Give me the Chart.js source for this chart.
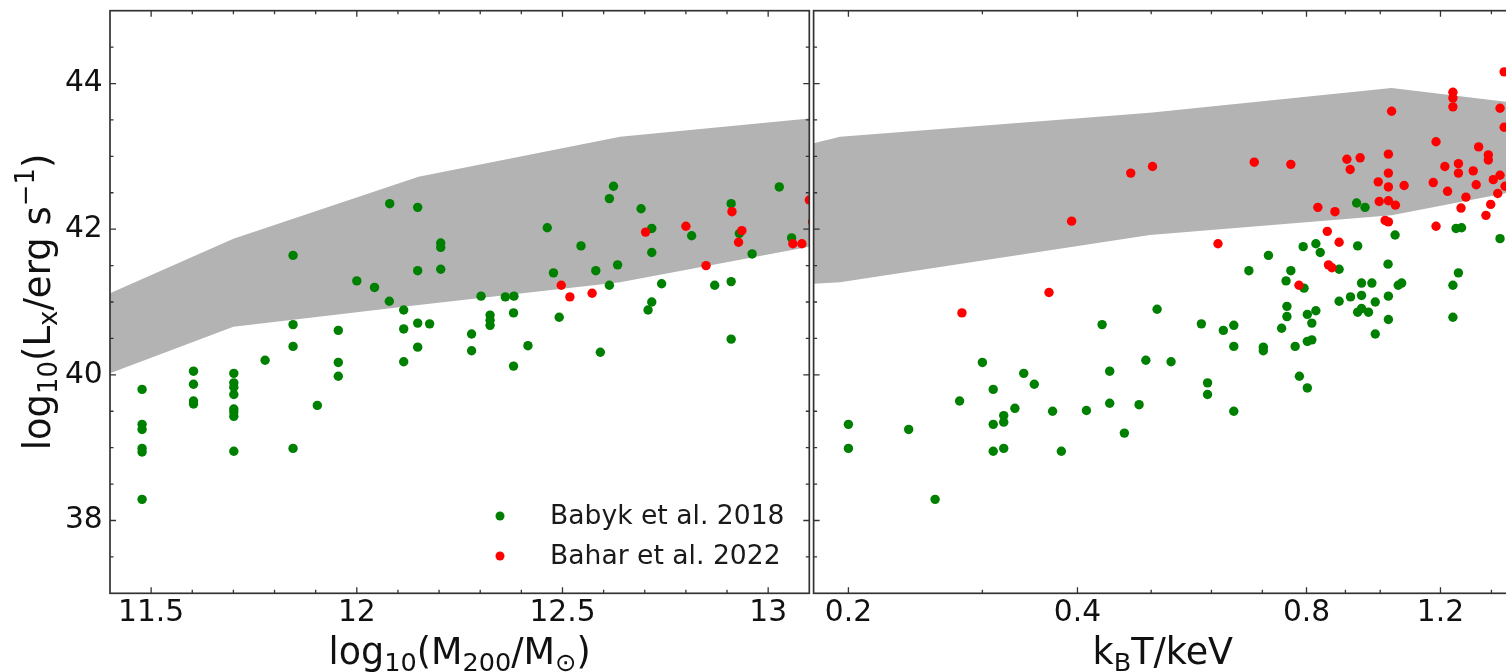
<!DOCTYPE html>
<html>
<head>
<meta charset="utf-8">
<script src="https://cdn.jsdelivr.net/npm/chart.js@4.4.1/dist/chart.umd.min.js"></script>
<style>
html, body { margin: 0; padding: 0; background: #fff; }
#wrap { position: relative; width: 1506px; height: 672px; overflow: hidden; background: #fff; }
#left { position: absolute; left: 0; top: 0; }
#right { position: absolute; left: 760px; top: 0; }
</style>
</head>
<body>
<div id="wrap">
  <canvas id="left" width="814" height="672"></canvas>
  <canvas id="right" width="780" height="672"></canvas>
</div>
<script>
//LEFT PANEL: MASS VS LUMINOSITY
const massGreen = [12.08, 11.845, 12.0, 12.043, 12.079, 11.845, 11.955, 11.845, 11.777, 11.955,
  11.955, 11.478, 11.603, 11.603, 11.603, 11.603, 11.701, 11.701, 11.701, 11.701,
  11.701, 11.701, 11.701, 11.701, 11.478, 11.478, 11.478, 11.478, 11.478, 11.904,
  11.845, 12.148, 12.204, 12.204, 12.148, 12.204, 12.114, 12.114, 12.148, 12.177,
  12.302, 12.324, 12.324, 12.324, 12.279, 12.361, 12.382, 12.381, 12.463, 12.478,
  12.492, 12.545, 12.581, 12.614, 12.624, 12.634, 12.614, 12.691, 12.717, 12.717,
  12.741, 12.717, 12.708, 12.814, 12.870, 12.910, 12.910, 12.930, 12.961, 13.027,
  13.057, 12.910, 12.114, 12.148, 12.279, 12.381, 12.416, 12.592];
const lumMassGreen = [42.35, 41.64, 41.29, 41.20, 41.01, 40.69, 40.61, 40.39, 40.20, 40.17,
  39.98, 39.80, 40.05, 39.87, 39.64, 39.60, 40.02, 39.89, 39.83, 39.73,
  39.53, 39.49, 39.43, 38.95, 39.32, 39.25, 38.99, 38.94, 38.29, 39.58,
  38.99, 42.30, 41.81, 41.75, 41.43, 41.45, 40.89, 40.63, 40.71, 40.70,
  41.08, 40.82, 40.75, 40.68, 40.56, 41.07, 41.08, 40.85, 42.02, 41.40,
  40.79, 41.77, 41.43, 42.42, 42.59, 41.51, 41.23, 42.28, 42.01, 41.68,
  41.25, 41.00, 40.89, 41.91, 41.23, 42.35, 41.28, 41.94, 41.66, 42.58,
  41.88, 40.49, 40.18, 40.38, 40.33, 40.12, 40.40, 40.31];
const massRed = [12.702, 12.800, 12.849, 12.912, 12.936, 12.928, 13.060, 13.082, 13.10, 13.108, 12.497, 12.518, 12.572];
const lumMassRed = [41.96, 42.04, 41.50, 42.24, 41.98, 41.82, 41.80, 41.80, 42.40, 42.10, 41.23, 41.07, 41.12];

//GREY BAND (MASS)
const bandMass = [11.4, 11.7, 12.15, 12.64, 13.1];
const bandMassUp = [41.12, 41.87, 42.72, 43.27, 43.52];
const bandMassLo = [40.02, 40.66, 40.96, 41.27, 41.76];

//RIGHT PANEL: TEMPERATURE VS LUMINOSITY
const tempGreen = [0.200, 0.200, 0.240, 0.260, 0.280, 0.300, 0.310, 0.310, 0.310, 0.320,
  0.320, 0.320, 0.331, 0.340, 0.351, 0.371, 0.381, 0.411, 0.441, 0.441,
  0.461, 0.482, 0.492, 0.431, 0.509, 0.531, 0.582, 0.593, 0.593, 0.622,
  0.642, 0.642, 0.642, 0.672, 0.702, 0.702, 0.713, 0.742, 0.752, 0.754,
  0.754, 0.763, 0.773, 0.783, 0.792, 0.794, 0.802, 0.802, 0.802, 0.813,
  0.813, 0.823, 0.823, 0.834, 0.883, 0.883, 0.914, 0.931, 0.955, 0.934,
  0.945, 0.975, 0.945, 0.985, 0.945, 0.934, 0.965, 0.985, 1.024, 1.025,
  1.025, 1.046, 1.056, 1.067, 1.246, 1.267, 1.246, 1.258, 1.279, 1.437];
const lumTempGreen = [39.32, 38.99, 39.25, 38.29, 39.64, 40.17, 39.80, 39.32, 38.95, 39.44,
  39.35, 38.99, 39.54, 40.02, 39.87, 39.50, 38.95, 39.51, 40.05, 39.61,
  39.20, 39.59, 40.20, 40.69, 40.90, 40.18, 40.70, 39.89, 39.73, 40.61,
  40.68, 40.39, 39.50, 41.43, 40.38, 40.33, 41.64, 40.64, 41.29, 40.94,
  40.80, 41.43, 40.39, 39.98, 41.76, 41.19, 40.83, 40.46, 39.82, 40.71,
  40.48, 41.80, 40.88, 41.68, 41.45, 41.01, 41.07, 42.36, 42.30, 41.77,
  41.26, 41.26, 41.09, 41.00, 40.91, 40.86, 40.86, 40.56, 41.52, 41.08,
  40.76, 41.92, 41.23, 41.26, 41.23, 41.40, 40.79, 42.01, 42.02, 41.87];
const tempRed = [0.282, 0.367, 0.393, 0.470, 0.502, 0.612, 0.683, 0.763, 0.782, 0.828,
  0.852, 0.855, 0.864, 0.872, 0.883, 0.904, 0.941, 0.913, 1.035, 1.025,
  1.025, 0.994, 1.025, 1.075, 0.997, 1.025, 1.047, 1.015, 1.025, 1.184,
  1.184, 1.174, 1.216, 1.226, 1.246, 1.246, 1.246, 1.267, 1.267, 1.277,
  1.296, 1.325, 1.337, 1.347, 1.377, 1.387, 1.387, 1.397, 1.408, 1.427,
  1.437, 1.459, 1.437, 1.455, 1.455];
const lumTempRed = [40.85, 41.13, 42.11, 42.77, 42.86, 41.80, 42.92, 42.89, 41.23, 42.30,
  41.97, 41.51, 41.47, 42.24, 41.82, 42.96, 42.98, 42.82, 43.62, 43.03,
  42.77, 42.65, 42.58, 42.60, 42.38, 42.39, 42.33, 42.12, 42.10, 42.04,
  43.20, 42.64, 42.86, 42.52, 43.88, 43.80, 43.68, 42.90, 42.77, 42.29,
  42.44, 42.80, 42.61, 43.13, 42.19, 43.02, 42.95, 42.34, 42.68, 42.49,
  42.74, 42.59, 43.66, 43.40, 44.16];

//GREY BAND (TEMPERATURE)
const bandTemp = [0.18, 0.195, 0.498, 1.035, 1.49];
const bandTempUp = [43.18, 43.27, 43.60, 43.94, 43.74];
const bandTempLo = [41.25, 41.27, 41.92, 42.19, 42.51];

//TICKS
const lumTicks = [38, 40, 42, 44];
const lumTickLabels = ['38', '40', '42', '44'];
const lumMinor = [37.5, 38.5, 39, 39.5, 40.5, 41, 41.5, 42.5, 43, 43.5, 44.5];
const massTicks = [11.5, 12, 12.5, 13];
const massTickLabels = ['11.5', '12', '12.5', '13'];
const massMinor = [11.6, 11.7, 11.8, 11.9, 12.1, 12.2, 12.3, 12.4, 12.6, 12.7, 12.8, 12.9];
const tempTicks = [0.2, 0.4, 0.8, 1.2];
const tempTickLabels = ['0.2', '0.4', '0.8', '1.2'];
const tempMinor = [0.3, 0.5, 0.6, 0.7, 0.9, 1.0, 1.4];

const seriesNames = ['Babyk et al. 2018', 'Bahar et al. 2022'];
const seriesColors = ['#008000', '#ff0000'];

//AXIS TITLES (TEXT, LEVEL: 0 NORMAL, -1 SUB, 1 SUPER)
const massTitle = [['log', 0], ['10', -1], ['(M', 0], ['200', -1], ['/M', 0], ['⊙', -1], [')', 0]];
const tempTitle = [['k', 0], ['B', -1], ['T/keV', 0]];
const lumTitle = [['log', 0], ['10', -1], ['(L', 0], ['x', -1], ['/erg s', 0], ['−1', 1], [')', 0]];

const FONT = '"DejaVu Sans", sans-serif';

function pts(xs, ys) {
  return xs.map((x, i) => ({ x: x, y: ys[i] }));
}
function bandShape(xs, up, lo) {
  return pts(xs, up).concat(pts(xs, lo).reverse());
}

function richFont(size, lvl) {
  return (lvl ? size * 0.7 : size) + 'px ' + FONT;
}
function drawRich(ctx, parts, cx, baseY, size) {
  let w = 0;
  parts.forEach(p => { ctx.font = richFont(size, p[1]); w += ctx.measureText(p[0]).width; });
  let x = cx - w / 2;
  ctx.textAlign = 'left';
  ctx.textBaseline = 'alphabetic';
  parts.forEach(p => {
    ctx.font = richFont(size, p[1]);
    const dy = p[1] < 0 ? 0.2 * size : (p[1] > 0 ? -0.42 * size : 0);
    ctx.fillText(p[0], x, baseY + dy);
    x += ctx.measureText(p[0]).width;
  });
}

//FRAME, INWARD TICKS, TITLES, LEGEND
const decor = {
  id: 'decor',
  afterDatasetsDraw(chart, args, o) {
    const ctx = chart.ctx;
    const a = chart.chartArea;
    const sx = chart.scales.x, sy = chart.scales.y;
    ctx.save();
    ctx.strokeStyle = '#333';
    ctx.lineWidth = 1.3;
    const xt = (vals, len) => vals.forEach(v => {
      const p = sx.getPixelForValue(v);
      ctx.beginPath();
      ctx.moveTo(p, a.bottom); ctx.lineTo(p, a.bottom - len);
      ctx.moveTo(p, a.top); ctx.lineTo(p, a.top + len);
      ctx.stroke();
    });
    const yt = (vals, len) => vals.forEach(v => {
      const p = sy.getPixelForValue(v);
      ctx.beginPath();
      ctx.moveTo(a.left, p); ctx.lineTo(a.left + len, p);
      ctx.moveTo(a.right, p); ctx.lineTo(a.right - len, p);
      ctx.stroke();
    });
    xt(o.xMajor, 6); xt(o.xMinor, 3.5);
    yt(lumTicks, 6); yt(lumMinor, 3.5);
    ctx.lineWidth = 1.7;
    ctx.strokeRect(a.left, a.top, a.right - a.left, a.bottom - a.top);

    ctx.fillStyle = '#111';
    drawRich(ctx, o.xTitle, (a.left + a.right) / 2, 664, 36.5);
    if (o.yTitle) {
      ctx.save();
      ctx.translate(50, (a.top + a.bottom) / 2);
      ctx.rotate(-Math.PI / 2);
      drawRich(ctx, o.yTitle, 0, 0, 37);
      ctx.restore();
    }
    if (o.legend) {
      seriesNames.forEach((name, i) => {
        const yy = 516 + i * 40;
        ctx.fillStyle = seriesColors[i];
        ctx.beginPath();
        ctx.arc(500, yy, 4.5, 0, Math.PI * 2);
        ctx.fill();
        ctx.fillStyle = '#1a1a1a';
        ctx.font = '26.6px ' + FONT;
        ctx.textAlign = 'left';
        ctx.textBaseline = 'alphabetic';
        ctx.fillText(name, 550, yy + 7.5);
      });
    }
    ctx.restore();
  }
};

function tickFont() {
  return { family: FONT, size: 29.7 };
}

function panel(canvas, xScale, datasets, pad, yWidth, deco) {
  return new Chart(canvas.getContext('2d'), {
    type: 'scatter',
    data: { datasets: datasets },
    options: {
      responsive: false,
      animation: false,
      events: [],
      layout: { padding: pad },
      plugins: { legend: { display: false }, tooltip: { enabled: false }, decor: deco },
      scales: {
        x: xScale,
        y: {
          type: 'linear', min: 37, max: 45,
          display: yWidth > 0,
          grid: { display: false, drawTicks: false },
          border: { display: false },
          afterBuildTicks: s => { s.ticks = lumTicks.map(v => ({ value: v })); },
          afterFit: s => { s.width = yWidth; s.paddingTop = 0; s.paddingBottom = 0; },
          ticks: { autoSkip: false, padding: 7.3, color: '#111', font: tickFont(),
            callback: (v, i) => lumTickLabels[i] }
        }
      }
    },
    plugins: [decor]
  });
}

function scatterSet(xs, ys, i) {
  return { label: seriesNames[i], data: pts(xs, ys), backgroundColor: seriesColors[i],
    pointRadius: 4.7, pointBorderWidth: 0, borderWidth: 0, clip: 0, order: 2 - i };
}
function bandSet(xs, up, lo) {
  return { label: 'band', data: bandShape(xs, up, lo), showLine: true, fill: 'shape',
    backgroundColor: '#b3b3b3', borderColor: 'transparent', borderWidth: 0,
    pointRadius: 0, order: 5 };
}

function xAxis(type, min, max, ticks, labels) {
  return {
    type: type, min: min, max: max,
    grid: { display: false, drawTicks: false },
    border: { display: false },
    afterBuildTicks: s => { s.ticks = ticks.map(v => ({ value: v })); },
    afterFit: s => { s.height = 78.7; s.paddingLeft = 0; s.paddingRight = 0; },
    ticks: { autoSkip: false, maxRotation: 0, padding: 2, color: '#111', font: tickFont(),
      callback: (v, i) => labels[i] }
  };
}

panel(document.getElementById('left'),
  xAxis('linear', 11.4, 13.1, massTicks, massTickLabels),
  [scatterSet(massGreen, lumMassGreen, 0), scatterSet(massRed, lumMassRed, 1),
   bandSet(bandMass, bandMassUp, bandMassLo)],
  { top: 10.7, right: 1.8, left: 0, bottom: 0 }, 110,
  { xMajor: massTicks, xMinor: massMinor, xTitle: massTitle, yTitle: lumTitle, legend: true });

panel(document.getElementById('right'),
  xAxis('logarithmic', 0.18, 1.49, tempTicks, tempTickLabels),
  [scatterSet(tempGreen, lumTempGreen, 0), scatterSet(tempRed, lumTempRed, 1),
   bandSet(bandTemp, bandTempUp, bandTempLo)],
  { top: 10.7, right: 28, left: 53.6, bottom: 0 }, 0,
  { xMajor: tempTicks, xMinor: tempMinor, xTitle: tempTitle, yTitle: null, legend: false });
</script>
</body>
</html>
